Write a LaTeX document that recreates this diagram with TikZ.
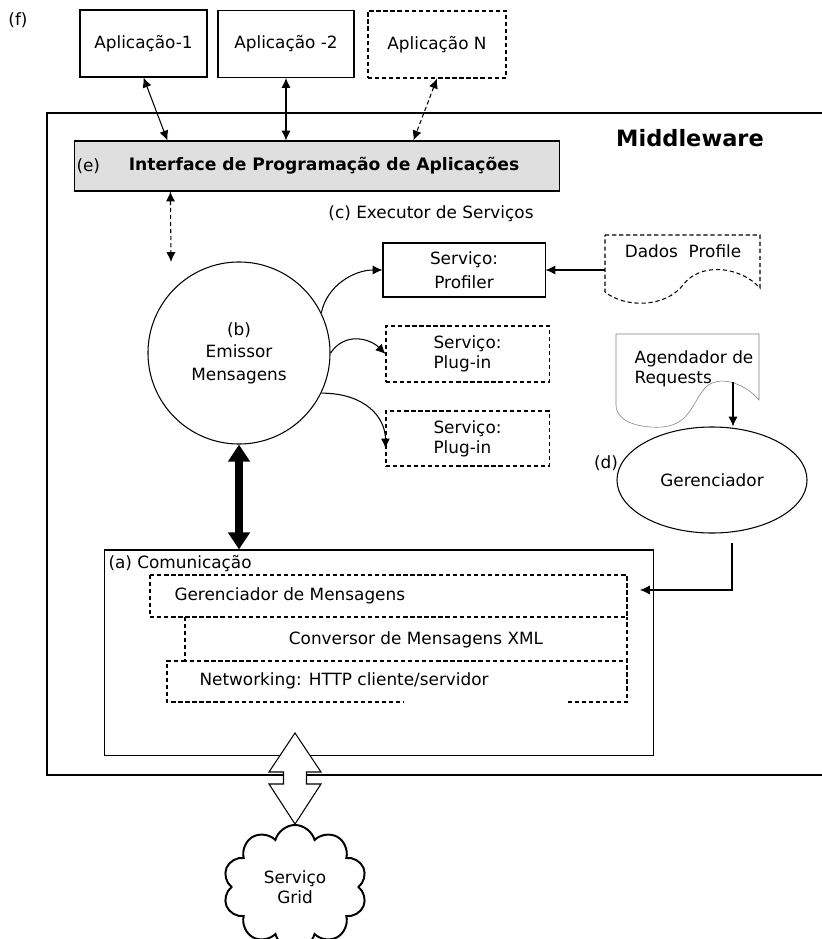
\documentclass[tikz,border=0pt]{standalone}
\usepackage{fontspec}
\setmainfont{DejaVu Sans}
\usetikzlibrary{shapes.geometric, shapes.symbols, arrows.meta, positioning, calc}
\tikzstyle{myarrow} = [->, >={Latex[length=7pt,width=6.5pt]}]
\tikzstyle{dblarrow} = [<->, >={Latex[length=7pt,width=6.5pt]}]
\tikzstyle{dashline} = [dash pattern=on 3pt off 2pt]
\tikzstyle{app} = [rectangle, draw, text centered, minimum height=1.675cm]
\tikzstyle{service} = [rectangle, draw, align=left, minimum width=4.075cm, minimum height=1.4cm]
\tikzstyle{tag} = [inner sep=0pt]
\tikzstyle{bigarrow} = [line width=0.2cm, {Triangle[length=0.425cm,width=0.525cm]}-{Triangle[length=0.425cm,width=0.525cm]}]

\begin{document}
\begin{tikzpicture}[x=0.025cm, y=-0.025cm, line width=0.75pt,
  font=\fontsize{12}{14.4}\selectfont]
\useasboundingbox (0,0) rectangle (821,939);

% applications
\node (f) [tag] at (18,20) {(f)};
\node (app1) [app, minimum width=3.175cm] at (143.5,43.5) {Aplicação-1};
\node (app2) [app, minimum width=3.4cm] at (286,44) {Aplicação -2};
\node (appn) [app, dashline, minimum width=3.45cm] at (437,44.5) {Aplicação N};

% middleware frame
\draw (47,113) rectangle (860,775);
\node (mw) [tag] at (690,138) {\fontsize{16}{19}\selectfont\bfseries Middleware};

\node (api) [rectangle, draw, fill=gray!25, minimum width=12.1cm, minimum height=1.25cm] at (317,166) {};
\node (apitext) [tag] at (324,166) {\fontsize{12.2}{14}\selectfont\bfseries Interface de Programação de Aplicações};
\node (e) [tag, anchor=west] at (76,166) {(e)};

\draw [dblarrow] (app1.south) -- ($(api.north west)+(93,0)$);
\draw [dblarrow] (app2.south) -- (app2.south |- api.north);
\draw [dblarrow, dashline] (appn.south) -- ($(api.north west)+(339,0)$);
\coordinate (apidown) at (171,262);
\draw [dblarrow, dashline] ($(api.south west)+(96,0)$) -- (apidown);

% services
\node (exec) [tag] at (431,214) {(c) Executor de Serviços};
\node (emissor) [circle, draw, minimum size=4.55cm, align=center,
  font=\fontsize{12}{16}\selectfont] at (239,353) {(b)\\Emissor\\Mensagens};
\node (profiler) [service, align=center, minimum width=4.05cm, minimum height=1.35cm,
  font=\fontsize{12}{17}\selectfont] at (464,270) {Serviço:\\Profiler};
\node (plugA) [service, dashline] at (467.5,354) {Serviço:\\Plug-in};
\node (plugB) [service, dashline, minimum height=1.375cm] at (467.5,438.5) {Serviço:\\Plug-in};

\draw [myarrow] (emissor.26) .. controls +(6,-28) and +(-28,0) .. (profiler.west);
\draw [myarrow] (emissor.0) .. controls +(15,-22) and +(-15,-15) .. (plugA.west);
\draw [myarrow] (emissor.-26) .. controls +(45,0) and +(0,-30) .. ([yshift=-7pt]plugB.west);

% profile data
\draw [dashline] (605,235) -- (760,235) -- (760,288)
  .. controls (740,266) and (700,262) .. (683,285)
  .. controls (665,308) and (625,308) .. (605,292) -- cycle;
\node (dadostext) [tag] at (683,251) {Dados\ \ Profile};
\coordinate (dados) at (605,270);
\draw [myarrow] (dados) -- (profiler.east);

% scheduler
\draw [gray, line width=0.4pt] (616,334) -- (759,334) -- (759,400)
  .. controls (745,383) and (718,374) .. (705,388)
  .. controls (690,405) and (690,430) .. (650,427)
  .. controls (625,425) and (616,415) .. (616,405) -- cycle;
\node (agendtext) [tag, align=left, anchor=north west] at (634,350) {Agendador de\\Requests};
\coordinate (agend) at (733,382);

\node (gerenciador) [ellipse, draw, minimum width=4.75cm, minimum height=2.65cm] at (712,480) {Gerenciador};
\node (d) [tag] at (606,463) {(d)};
\draw [myarrow] (agend) -- (agend |- gerenciador.north);

% communication
\node (comm) [rectangle, draw, minimum width=13.7cm, minimum height=5.125cm] at (379,652.5) {};
\node (commtext) [tag, anchor=west] at (108,564) {(a) Comunicação};
\draw [dashline] (150,575) rectangle (627,617);
\node (msgtext) [tag, anchor=west] at (174,596) {Gerenciador de Mensagens};
\draw [dashline] (185,617) -- (185,661) -- (627,661) -- (627,617);
\node (xmltext) [tag] at (416,640) {Conversor de Mensagens XML};
\draw [dashline] (185,661) -- (167,661) -- (167,702) -- (404,702);
\draw [dashline] (568,702) -- (627,702) -- (627,661);
\node (nettext) [tag, anchor=west] at (199,681) {Networking: HTTP cliente/servidor};

\coordinate (gerout) at (732,543);
\coordinate (commin) at (640,590);
\draw [myarrow] (gerout) |- (commin);

\draw [bigarrow] (emissor.south) -- (emissor.south |- comm.north);

% grid
\node (grid) [cloud, draw, line width=1.4pt, cloud puffs=10, aspect=1,
  minimum width=3.6cm, minimum height=3.1cm, align=center] at (295,887) {Serviço\\Grid};
\coordinate (hollowtop) at (295,733);
\coordinate (hollowbot) at (295,824);
\draw [fill=white] (hollowtop) -- ++(-26,39) -- ++(14.5,0) -- ++(0,12) -- ++(-14.5,0)
  -- (hollowbot) -- ++(26,-40) -- ++(-14.5,0) -- ++(0,-12) -- ++(14.5,0) -- cycle;
\end{tikzpicture}
\end{document}
